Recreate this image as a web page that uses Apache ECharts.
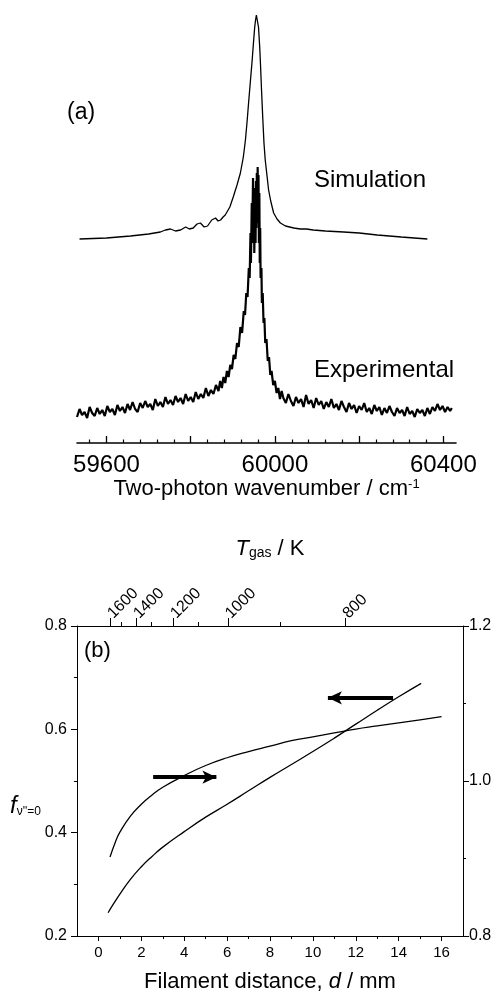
<!DOCTYPE html>
<html>
<head>
<meta charset="utf-8">
<script src="https://cdn.jsdelivr.net/npm/echarts@6/dist/echarts.min.js"></script>
<style>
  html, body { margin: 0; padding: 0; background: #fff; }
  #chart { width: 500px; height: 998px; }
</style>
</head>
<body>
<div id="chart"></div>
<script>
// panel (a): wavenumber (cm-1) vs intensity (arbitrary units)
var simulation = [
  [59536,204],[59600,205],[59657,207],[59700,209],[59728,211],[59740,213],[59752,214],
  [59764,212],[59776,213],[59788,216],[59797,214],[59806,215],[59815,219],[59823,220],
  [59832,216],[59840,217],[59850,223],[59859,225],[59865,222],[59871,223],[59877,226],
  [59882,228],[59886,230],[59893,236],[59901,246],[59910,258],[59918,270],[59925,286],
  [59930,303],[59934,322],[59938,343],[59942,363],[59946,383],[59949,400],[59952,416],
  [59954,423],[59956,428],[59958,423],[59961,416],[59964,395],[59966,376],[59968,355],
  [59971,326],[59974,300],[59977,283],[59981,268],[59985,253],[59990,242],[59997,230],
  [60005,224],[60013,220],[60025,217],[60045,215],[60060,214],[60075,214],[60091,213],
  [60120,212],[60163,211],[60200,210],[60243,208],[60300,206],[60362,204]
];
var experimental = [
  [59530,26],[59536,34],[59542,28],[59548,31],[59554,25],[59560,36],[59566,30],[59572,27],
  [59578,35],[59584,29],[59590,33],[59596,27],[59602,37],[59608,31],[59614,34],[59620,28],
  [59626,38],[59632,32],[59638,36],[59644,30],[59650,39],[59656,33],[59662,41],[59668,34],
  [59674,31],[59680,40],[59686,35],[59692,42],[59698,36],[59704,39],[59710,33],[59716,44],
  [59722,37],[59728,41],[59734,36],[59740,46],[59746,39],[59752,43],[59758,38],[59764,47],
  [59770,41],[59776,45],[59782,39],[59788,49],[59794,42],[59800,46],[59806,41],[59812,51],
  [59818,44],[59824,49],[59830,45],[59836,55],[59842,47],[59848,53],[59854,49],[59860,58],
  [59866,52],[59870,62],[59874,55],[59878,66],[59882,60],[59886,72],[59890,66],[59894,78],
  [59898,74],[59902,88],[59906,84],[59910,100],[59914,96],[59918,116],[59922,110],[59926,132],
  [59929,128],[59932,150],[59935,146],[59938,175],[59940,165],[59942,210],[59943,180],
  [59945,240],[59946,200],[59948,265],[59949,215],[59950,255],[59951,190],[59953,245],
  [59954,200],[59955,262],[59956,215],[59957,270],[59958,220],[59959,276],[59960,230],
  [59961,268],[59962,200],[59963,250],[59964,180],[59965,215],[59966,165],[59968,175],
  [59969,140],[59971,150],[59973,120],[59975,125],[59977,100],[59980,104],[59983,82],
  [59986,86],[59989,68],[59992,72],[59996,58],[60000,62],[60004,50],[60008,55],[60012,44],
  [60016,52],[60020,45],[60026,40],[60032,49],[60038,42],[60044,37],[60050,46],[60056,40],
  [60062,44],[60068,36],[60074,48],[60080,39],[60086,43],[60092,35],[60098,45],[60104,38],
  [60110,42],[60116,34],[60122,41],[60128,36],[60134,44],[60140,35],[60146,39],[60152,33],
  [60158,42],[60164,36],[60170,31],[60176,40],[60182,34],[60188,38],[60194,30],[60200,37],
  [60206,33],[60212,40],[60218,31],[60224,35],[60230,29],[60236,38],[60242,32],[60248,36],
  [60254,28],[60260,35],[60266,30],[60272,37],[60278,31],[60284,27],[60290,35],[60296,30],
  [60302,33],[60308,27],[60314,36],[60320,29],[60326,32],[60332,26],[60338,34],[60344,30],
  [60350,33],[60356,27],[60362,35],[60368,29],[60374,36],[60380,32],[60386,39],[60392,33],
  [60398,37],[60404,31],[60410,36],[60416,32],[60420,35]
];
var wnMajorTicks = [59600, 59800, 60000, 60200, 60400];
var wnLabels = [59600, 60000, 60400];
var wnMinorTicks = [59560, 59640, 59680, 59720, 59760, 59840, 59880, 59920, 59960,
  60040, 60080, 60120, 60160, 60240, 60280, 60320, 60360];

// panel (b): filament distance d (mm)
var fracD = [0.45, 0.7, 1, 1.5, 2, 2.5, 3, 4, 5, 6, 7, 8, 9, 10, 11, 12, 13, 14, 15.05];
var fracV = [0.245, 0.262, 0.281, 0.31, 0.334, 0.354, 0.372, 0.402, 0.43, 0.455, 0.481,
  0.507, 0.532, 0.557, 0.583, 0.61, 0.637, 0.663, 0.689];
var rightD = [0.54, 0.8, 1, 1.5, 2, 2.5, 3, 4, 5, 6, 7, 8, 9, 10, 11, 12, 13, 14, 15, 16];
var rightV = [0.902, 0.922, 0.934, 0.955, 0.970, 0.982, 0.992, 1.007, 1.020, 1.030, 1.038,
  1.045, 1.052, 1.057, 1.062, 1.067, 1.071, 1.075, 1.079, 1.083];
var dMajorTicks = [0, 2, 4, 6, 8, 10, 12, 14, 16];
var dMinorTicks = [1, 3, 5, 7, 9, 11, 13, 15];
var tgasLabels = [1600, 1400, 1200, 1000, 800];
var tgasPos = [0.56, 1.77, 3.49, 6.05, 11.53];
var tgasMinorPos = [1.07, 2.47, 4.65, 8.47];
var arrowLeft = [[13.74, 0.661], [10.7, 0.661]];
var arrowRight = [[2.55, 1.005], [5.5, 1.005]];

var FONT = 'Liberation Sans, Arial, sans-serif';
var myChart = echarts.init(document.getElementById('chart'));

function pairs(xs, ys) {
  return xs.map(function (x, i) { return [x, ys[i]]; });
}

option = {
  animation: false,
  backgroundColor: '#fff',
  textStyle: { fontFamily: FONT, color: '#000' },
  grid: [
    { left: 77, right: 44, top: 15, height: 428 },
    { left: 77, right: 37, top: 626, height: 310 }
  ],
  xAxis: [
    {
      gridIndex: 0, type: 'value', position: 'bottom', min: 59530, max: 60430,
      axisLine: { onZero: false, lineStyle: { color: '#000', width: 1.6 } },
      axisTick: { inside: true, length: 7, customValues: wnMajorTicks, lineStyle: { color: '#000', width: 1.3 } },
      axisLabel: { customValues: wnLabels, fontSize: 24, color: '#000', margin: 10, fontFamily: FONT,
        formatter: function (v) { return String(v); } },
      splitLine: { show: false },
      name: '{n|Two-photon wavenumber / cm}{s|-1}',
      nameLocation: 'middle', nameGap: 35,
      nameTextStyle: {
        rich: {
          n: { fontSize: 22, fontFamily: FONT, color: '#000' },
          s: { fontSize: 13, fontFamily: FONT, color: '#000', verticalAlign: 'top' }
        }
      }
    },
    {
      gridIndex: 0, type: 'value', position: 'bottom', min: 59530, max: 60430,
      axisLine: { show: false, onZero: false },
      axisTick: { inside: true, length: 3.5, customValues: wnMinorTicks, lineStyle: { color: '#000', width: 1.2 } },
      axisLabel: { show: false },
      splitLine: { show: false }
    },
    {
      gridIndex: 1, type: 'value', position: 'bottom', min: -1, max: 17,
      axisLine: { onZero: false, lineStyle: { color: '#000', width: 1 } },
      axisTick: { length: 5, customValues: dMajorTicks, lineStyle: { color: '#000' } },
      axisLabel: { customValues: dMajorTicks, fontSize: 15, color: '#000', margin: 9, fontFamily: FONT },
      splitLine: { show: false },
      name: '{n|Filament distance, }{i|d}{n| / mm}',
      nameLocation: 'middle', nameGap: 35,
      nameTextStyle: {
        rich: {
          n: { fontSize: 22, fontFamily: FONT, color: '#000' },
          i: { fontSize: 22, fontFamily: FONT, color: '#000', fontStyle: 'italic' }
        }
      }
    },
    {
      gridIndex: 1, type: 'value', position: 'bottom', min: -1, max: 17,
      axisLine: { show: false, onZero: false },
      axisTick: { length: 3, customValues: dMinorTicks, lineStyle: { color: '#000' } },
      axisLabel: { show: false },
      splitLine: { show: false }
    },
    {
      gridIndex: 1, type: 'value', position: 'top', min: -1, max: 17,
      axisLine: { onZero: false, lineStyle: { color: '#000', width: 1 } },
      axisTick: { length: 8, customValues: tgasPos, lineStyle: { color: '#000' } },
      axisLabel: {
        customValues: tgasPos, rotate: -45, fontSize: 16, color: '#000', margin: 10, fontFamily: FONT,
        formatter: function (v) {
          for (var i = 0; i < tgasPos.length; i++) {
            if (Math.abs(tgasPos[i] - v) < 1e-6) return String(tgasLabels[i]);
          }
          return '';
        }
      },
      splitLine: { show: false },
      name: '{t|T}{s|gas}{n| / K}',
      nameLocation: 'middle', nameGap: 66,
      nameTextStyle: {
        rich: {
          t: { fontSize: 22, fontFamily: FONT, color: '#000', fontStyle: 'italic' },
          s: { fontSize: 14, fontFamily: FONT, color: '#000', verticalAlign: 'bottom', padding: [8, 0, 0, 0] },
          n: { fontSize: 22, fontFamily: FONT, color: '#000' }
        }
      }
    },
    {
      gridIndex: 1, type: 'value', position: 'top', min: -1, max: 17,
      axisLine: { show: false, onZero: false },
      axisTick: { length: 4, customValues: tgasMinorPos, lineStyle: { color: '#000' } },
      axisLabel: { show: false },
      splitLine: { show: false }
    }
  ],
  yAxis: [
    { gridIndex: 0, type: 'value', min: 0, max: 428, show: false },
    {
      gridIndex: 1, type: 'value', position: 'left', min: 0.2, max: 0.8, interval: 0.2,
      axisLine: { show: true, onZero: false, lineStyle: { color: '#000', width: 1 } },
      axisTick: { show: true, length: 6, lineStyle: { color: '#000' } },
      minorTick: { show: true, splitNumber: 2, length: 3, lineStyle: { color: '#000' } },
      axisLabel: { fontSize: 16, color: '#000', margin: 10, fontFamily: FONT,
        formatter: function (v) { return v.toFixed(1); } },
      splitLine: { show: false }
    },
    {
      gridIndex: 1, type: 'value', position: 'right', min: 0.8, max: 1.2, interval: 0.2,
      axisLine: { show: true, onZero: false, lineStyle: { color: '#000', width: 1 } },
      axisTick: { show: true, length: 6, lineStyle: { color: '#000' } },
      minorTick: { show: true, splitNumber: 2, length: 3, lineStyle: { color: '#000' } },
      axisLabel: { fontSize: 16, color: '#000', margin: 6, fontFamily: FONT,
        formatter: function (v) { return v.toFixed(1); } },
      splitLine: { show: false }
    }
  ],
  series: [
    {
      name: 'Simulation', type: 'line', xAxisIndex: 0, yAxisIndex: 0,
      data: simulation, showSymbol: false, symbol: 'none',
      lineStyle: { color: '#000', width: 1.3 }
    },
    {
      name: 'Experimental', type: 'line', xAxisIndex: 0, yAxisIndex: 0,
      data: experimental, showSymbol: false, symbol: 'none',
      lineStyle: { color: '#000', width: 2.2 }
    },
    {
      name: 'f', type: 'line', xAxisIndex: 2, yAxisIndex: 1,
      data: pairs(fracD, fracV), showSymbol: false, symbol: 'none', smooth: true,
      lineStyle: { color: '#000', width: 1.3 },
      markLine: {
        silent: true, symbol: ['none', 'arrow'], symbolSize: [10, 14],
        label: { show: false },
        lineStyle: { color: '#000', width: 4, type: 'solid' },
        data: [[{ coord: arrowLeft[0] }, { coord: arrowLeft[1] }]]
      }
    },
    {
      name: 'right', type: 'line', xAxisIndex: 2, yAxisIndex: 2,
      data: pairs(rightD, rightV), showSymbol: false, symbol: 'none', smooth: true,
      lineStyle: { color: '#000', width: 1.3 },
      markLine: {
        silent: true, symbol: ['none', 'arrow'], symbolSize: [10, 14],
        label: { show: false },
        lineStyle: { color: '#000', width: 4, type: 'solid' },
        data: [[{ coord: arrowRight[0] }, { coord: arrowRight[1] }]]
      }
    }
  ],
  graphic: [
    { type: 'text', x: 67, y: 113, style: { text: '(a)', fontSize: 23, fontFamily: FONT, fill: '#000', verticalAlign: 'middle' } },
    { type: 'text', x: 314, y: 180, style: { text: 'Simulation', fontSize: 24, fontFamily: FONT, fill: '#000', verticalAlign: 'middle' } },
    { type: 'text', x: 314, y: 370, style: { text: 'Experimental', fontSize: 24, fontFamily: FONT, fill: '#000', verticalAlign: 'middle' } },
    { type: 'text', x: 84, y: 651, style: { text: '(b)', fontSize: 22, fontFamily: FONT, fill: '#000', verticalAlign: 'middle' } },
    {
      type: 'text', x: 10, y: 806,
      style: {
        text: '{f|f}{s|\u03bd\'\'=0}', verticalAlign: 'middle', fill: '#000',
        rich: {
          f: { fontSize: 24, fontFamily: FONT, fontStyle: 'italic', fill: '#000' },
          s: { fontSize: 12, fontFamily: FONT, fill: '#000', verticalAlign: 'bottom', padding: [10, 0, 0, 0] }
        }
      }
    }
  ]
};
myChart.setOption(option);
</script>
</body>
</html>
